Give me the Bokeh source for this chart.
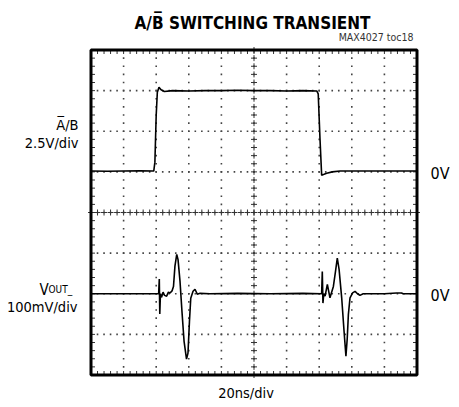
import numpy as np
from bokeh.plotting import figure
from bokeh.models import Range1d, Label
from bokeh.embed import file_html
from bokeh.resources import INLINE

# ---- data (time in ns, 20 ns/div) ----
t_ab = [0, 10, 20, 30, 38.5, 39.2, 40.0, 40.7, 41.7, 43.0, 45, 50, 60, 70, 80, 90, 100,
        110, 120, 130, 138.5, 139.4, 140.5, 141.5, 143, 144.6, 148, 152.8, 160, 180, 200]
v_ab = [0.05, 0.04, 0.05, 0.06, 0.05, 0.6, 3.5, 4.9, 5.2, 5.05, 4.95, 5.0, 4.98, 5.0, 5.0, 5.02, 5.0,
        5.0, 4.98, 5.0, 4.98, 4.8, 2.0, -0.2, -0.15, -0.09, 0.0, 0.05, 0.05, 0.05, 0.05]  # V

t_out = [0, 20, 41.5, 41.9, 42.2, 42.6, 43.3, 44.2, 45.1, 46.4, 47.5, 48.5, 49.7, 50.6, 51.5,
         52.6, 53.4, 54.6, 55.8, 57.1, 58.6, 59.5, 60.4, 61.2, 62.6, 63.8, 65.2, 66.9, 73, 90,
         110, 130, 141.5, 141.9, 142.3, 142.8, 143.6, 145.0, 146.6, 148.7, 150.0, 151.1, 152.2,
         153.8, 155.2, 156.4, 157.2, 157.9, 158.9, 160.5, 162.0, 163.5, 165.0, 167.0, 180,
         187.5, 190.5, 191.5, 200]
v_out = [0, 0, 0, 36, -50, 0, -9, 4, -4, -6, 4, 2, 7, 18, 68,
         97, 84, 31, -43, -117, -161, -146, -68, -11, 6, 11, -1, 1, 0, 1,
         0, 1, 0, 55, -23, 0, -6, 23, -10, 18, 55, 88, 60,
         -10, -90, -154, -110, -51, -10, 2, 6, 0, -4, 0, 0,
         2, 2, 0, 0]  # mV

title_text = "A/B\u0305 SWITCHING TRANSIENT"
note_text = "MAX4027 toc18"
ab_label = "A\u0305/B"
ab_scale = "2.5V/div"
out_label_v = "V"
out_label_sub = "OUT_"
out_scale = "100mV/div"
zero_label = "0V"
time_scale = "20ns/div"

N_XDIV, N_YDIV = 10, 8
NS_PER_DIV = 20
AB_V_PER_DIV, AB_ZERO_DIV = 2.5, 1.0
OUT_MV_PER_DIV, OUT_ZERO_DIV = 100.0, -2.0
FONT = "DejaVu Sans Condensed, Roboto Condensed, Roboto"

W, H = 459, 407
X0, XW = 90.5, 326.0      # graticule left / width in px
YC, YH = 212.0, 325.0     # graticule center / height in px
ns_per_px = N_XDIV * NS_PER_DIV / XW
div_per_px = N_YDIV / YH
xr = (-X0 * ns_per_px, (W - X0) * ns_per_px)
yr = ((YC - H) * div_per_px, YC * div_per_px)

p = figure(width=W, height=H, x_range=Range1d(*xr), y_range=Range1d(*yr),
           output_backend="svg", toolbar_location=None,
           x_axis_location=None, y_axis_location=None,
           min_border=0)
p.grid.visible = False
p.outline_line_color = None
p.background_fill_color = "white"
p.border_fill_color = "white"

p.extra_y_ranges = {
    "ab": Range1d((yr[0] - AB_ZERO_DIV) * AB_V_PER_DIV, (yr[1] - AB_ZERO_DIV) * AB_V_PER_DIV),
    "out": Range1d((yr[0] - OUT_ZERO_DIV) * OUT_MV_PER_DIV, (yr[1] - OUT_ZERO_DIV) * OUT_MV_PER_DIV),
}

XMAX = N_XDIV * NS_PER_DIV
YTOP = N_YDIV / 2

# ---- graticule ----
x_major = np.arange(1, N_XDIV) * NS_PER_DIV
y_major = np.arange(-YTOP + 1, YTOP)
x_minor = np.arange(0, N_XDIV * 5 + 1) * NS_PER_DIV / 5
y_minor = np.arange(0, N_YDIV * 5 + 1) / 5 - YTOP

dx, dy = [], []
for xm in x_major:
    for ym in y_minor[1:-1]:
        dx.append(xm); dy.append(ym)
for ym in y_major:
    for xm in x_minor[1:-1]:
        dx.append(xm); dy.append(ym)
p.scatter(dx, dy, marker="square", size=1.6, color="#444444", line_width=0)

cx = XMAX / 2
p.scatter([cx] * len(y_minor), list(y_minor), marker="cross", size=6, line_color="#333333", line_width=1)
p.scatter(list(x_minor), [0] * len(x_minor), marker="cross", size=6,
          line_color="#333333", line_width=1)

# frame edge ticks (inward)
tx = 4 * ns_per_px
ty = 4 * div_per_px
p.segment(x0=[0] * len(y_minor), y0=list(y_minor), x1=[tx] * len(y_minor), y1=list(y_minor),
          line_color="#333333", line_width=1)
p.segment(x0=[XMAX] * len(y_minor), y0=list(y_minor), x1=[XMAX - tx] * len(y_minor), y1=list(y_minor),
          line_color="#333333", line_width=1)
p.segment(x0=list(x_minor), y0=[-YTOP] * len(x_minor), x1=list(x_minor), y1=[-YTOP + ty] * len(x_minor),
          line_color="#333333", line_width=1)
p.segment(x0=list(x_minor), y0=[YTOP] * len(x_minor), x1=list(x_minor), y1=[YTOP - ty] * len(x_minor),
          line_color="#333333", line_width=1)

# frame
p.quad(left=[0], right=[XMAX], bottom=[-YTOP], top=[YTOP], fill_color=None,
       line_color="black", line_width=3)

# ---- traces ----
p.line(t_ab, v_ab, y_range_name="ab", line_color="black", line_width=1.6)
p.line(t_out, v_out, y_range_name="out", line_color="black", line_width=1.6)

# ---- texts ----
DY = -6  # empirical baseline correction (px)

def px2x(px):
    return (px - X0) * ns_per_px

def py2y(py):
    return (YC - (py + DY)) * div_per_px

def lab(px, py, text, size, align="left", bold=False, color="black"):
    p.add_layout(Label(x=px2x(px), y=py2y(py), text=text, text_font=FONT, text_font_size=f"{size}px",
                       text_align=align, text_baseline="alphabetic", text_color=color,
                       text_font_style="bold" if bold else "normal"))

lab(252, 28, title_text, 17, "center", bold=True)
lab(413, 42, note_text, 10.5, "right", color="#333333")
lab(78, 130, ab_label, 14.5, "right")
lab(78, 148, ab_scale, 14.5, "right")
lab(39, 295, out_label_v, 15, "left")
lab(48, 295, out_label_sub, 10, "left")
lab(77, 312, out_scale, 14.5, "right")
lab(430, 179, zero_label, 16, "left")
lab(430, 301, zero_label, 16, "left")
lab(245.5, 398, time_scale, 14.5, "center")

open("out.html", "w").write(file_html(p, INLINE))
